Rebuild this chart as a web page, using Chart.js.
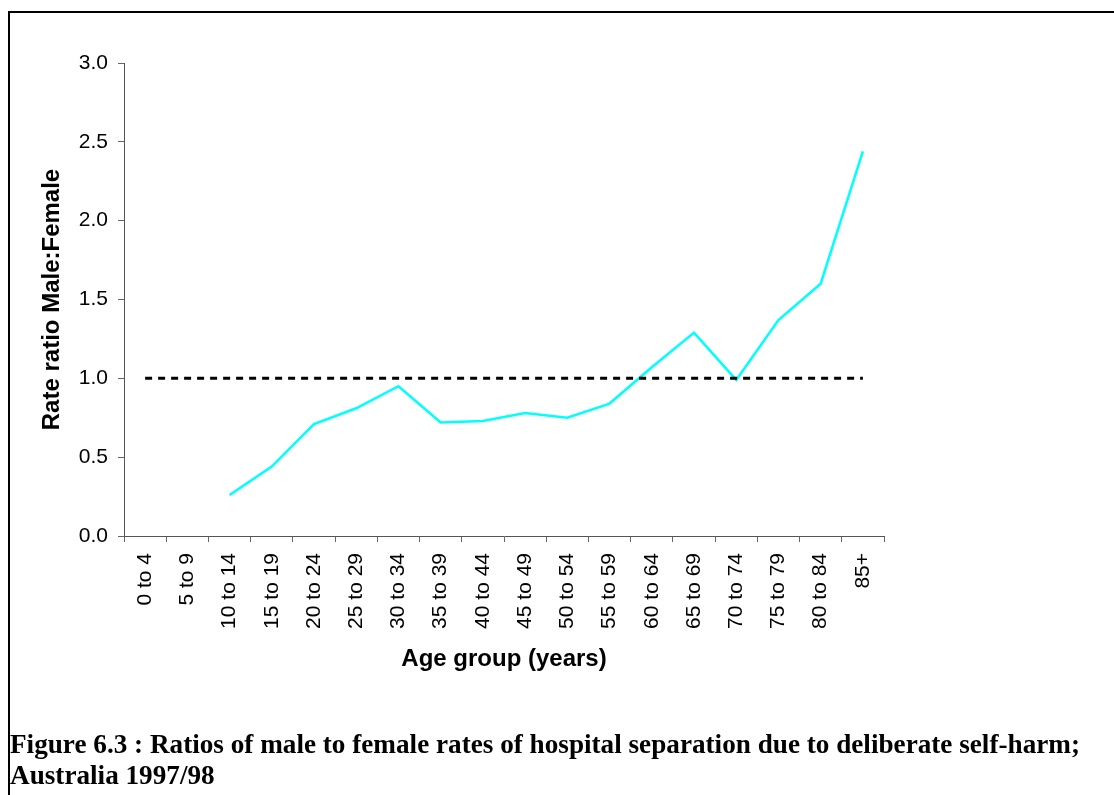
<!DOCTYPE html>
<html>
<head>
<meta charset="utf-8">
<script src="https://cdn.jsdelivr.net/npm/chart.js@4"></script>
<style>
  html, body { margin: 0; padding: 0; background: #fff; overflow: hidden; }
  #frame {
    position: absolute; left: 8px; top: 11px; width: 1200px; height: 900px;
    border-top: 2px solid #000; border-left: 2px solid #000;
  }
  #wrap { position: absolute; left: 0; top: 0; width: 1114px; height: 795px; }
  #caption {
    position: absolute; left: 10px; top: 728px;
    font-family: "Liberation Serif", "Times New Roman", serif;
    font-weight: bold; color: #000; white-space: nowrap;
    transform-origin: 0 0;
  }
</style>
</head>
<body>
<div id="frame"></div>
<div id="wrap"><canvas id="ratioChart"></canvas></div>
<div id="caption">
  <div>Figure 6.3 : Ratios of male to female rates of hospital separation due to deliberate self-harm;</div>
  <div>Australia 1997/98</div>
</div>
<script>
// Age groups and male:female rate ratios
const ageGroups = ['0 to 4', '5 to 9', '10 to 14', '15 to 19', '20 to 24', '25 to 29',
    '30 to 34', '35 to 39', '40 to 44', '45 to 49', '50 to 54', '55 to 59',
    '60 to 64', '65 to 69', '70 to 74', '75 to 79', '80 to 84', '85+'];
const rateRatio = [null, null, 0.26, 0.44, 0.71, 0.81, 0.95, 0.72, 0.73, 0.78,
    0.75, 0.84, 1.07, 1.29, 0.99, 1.37, 1.60, 2.44];
const parityLine = ageGroups.map(() => 1.0);
const yTicks = [0, 0.5, 1.0, 1.5, 2.0, 2.5, 3.0];

Chart.defaults.font.family = '"Liberation Sans", Arial, sans-serif';
Chart.defaults.color = '#000';

function createRatioChart(ctx) {
    return new Chart(ctx, {
        type: 'line',
        data: {
            labels: ageGroups,
            datasets: [{
                label: 'Parity',
                data: parityLine,
                borderColor: '#000',
                borderWidth: 3,
                borderDash: [7, 6],
                pointRadius: 0,
                order: 0
            }, {
                label: 'Male:Female',
                data: rateRatio,
                borderColor: '#00ffff',
                borderWidth: 2.5,
                pointRadius: 0,
                tension: 0,
                order: 1
            }]
        },
        options: {
            responsive: true,
            maintainAspectRatio: false,
            animation: false,
            layout: { padding: { left: 0, top: 63, right: 230, bottom: 0 } },
            plugins: { legend: { display: false }, tooltip: { enabled: false } },
            scales: {
                x: {
                    offset: true,
                    grid: { offset: true, drawOnChartArea: false, tickLength: 6, color: '#666' },
                    border: { color: '#555', width: 1 },
                    ticks: { minRotation: 90, maxRotation: 90, padding: 11, font: { size: 21 }, autoSkip: false },
                    title: {
                        display: true,
                        text: 'Age group (years)',
                        font: { size: 24, weight: 'bold' },
                        padding: { top: 0, bottom: 121 }
                    },
                    afterFit: s => { s.height = 259; }
                },
                y: {
                    min: 0,
                    max: 3,
                    afterBuildTicks: s => { s.ticks = yTicks.map(v => ({ value: v })); },
                    grid: { drawOnChartArea: false, tickLength: 6, color: '#666' },
                    border: { color: '#555', width: 1 },
                    ticks: { padding: 10, font: { size: 21 }, callback: v => v.toFixed(1) },
                    title: {
                        display: true,
                        text: 'Rate ratio Male:Female',
                        font: { size: 24, weight: 'bold' },
                        padding: { top: 38, bottom: 0 }
                    },
                    afterFit: s => { s.width = 124; }
                }
            }
        }
    });
}

// Caption: condensed serif, first line spans the frame
function fitCaption() {
    const cap = document.getElementById('caption');
    cap.style.fontSize = '28px';
    cap.style.lineHeight = '31px';
    const w = cap.firstElementChild.getBoundingClientRect().width;
    cap.style.transform = 'scaleX(' + (1070 / w) + ')';
}

document.addEventListener('DOMContentLoaded', () => {
    createRatioChart(document.getElementById('ratioChart'));
    fitCaption();
});
</script>
</body>
</html>
